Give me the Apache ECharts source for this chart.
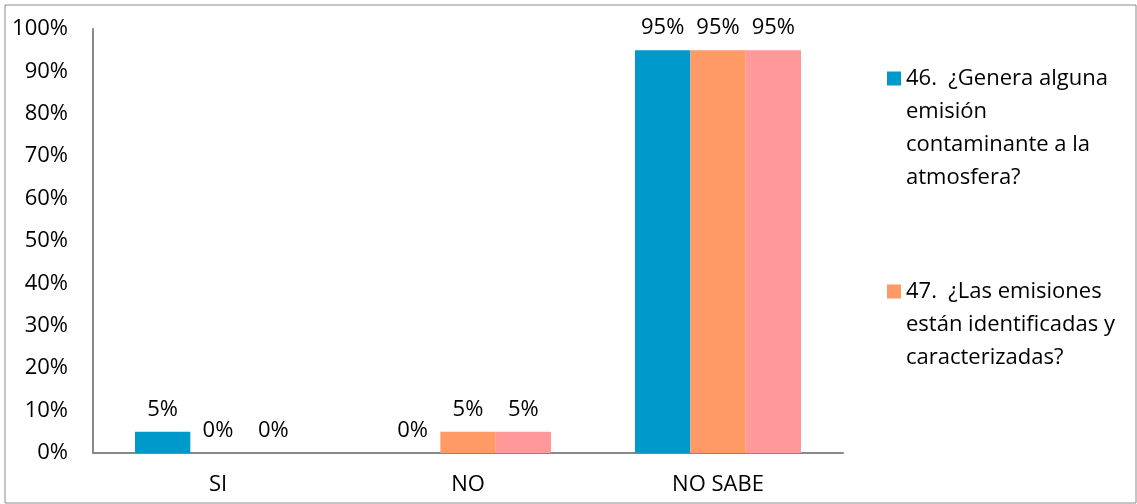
<!DOCTYPE html>
<html>
<head>
<meta charset="utf-8">
<script src="https://cdn.jsdelivr.net/npm/echarts@6/dist/echarts.min.js"></script>
<style>
  html, body { margin: 0; padding: 0; background: #fff; }
  #chart { width: 1137px; height: 504px; }
</style>
</head>
<body>
<div id="chart"></div>
<script>
// respuestas
const categories = ['SI', 'NO', 'NO SABE']
// porcentajes por pregunta
const q46 = [5, 0, 95]
const q47 = [0, 5, 95]
const q48 = [0, 5, 95]
const yTicks = [0, 10, 20, 30, 40, 50, 60, 70, 80, 90, 100]

const name46 = '46.  ¿Genera alguna emisión contaminante a la atmosfera?'
const name47 = '47.  ¿Las emisiones están identificadas y caracterizadas?'
const name48 = '48.'
// texto de la leyenda partido en lineas como en el original
const legendText = {}
legendText[name46] = ['46.  ¿Genera alguna', 'emisión', 'contaminante a la', 'atmosfera?']
legendText[name47] = ['47.  ¿Las emisiones', 'están identificadas y', 'caracterizadas?']

const font = 'Open Sans'
const fs = 22
const lineH = 33

const chart = echarts.init(document.getElementById('chart'))

const barLabel = {
  show: true,
  position: 'top',
  distance: 11,
  color: '#000',
  fontFamily: font,
  fontSize: fs,
  formatter: '{c}%'
}

// el texto se centra en el cuadro, asi que se meten lineas vacias arriba
// para que la primera linea quede a la altura del cuadro
function legendLabel (n) {
  const lines = legendText[n]
  const pad = []
  for (let i = 1; i < lines.length; i++) pad.push(' ')
  return pad.concat(lines).join('\n')
}

function legendItem (name, top) {
  return {
    orient: 'vertical',
    left: 887,
    top: top,
    padding: 0,
    itemWidth: 14,
    itemHeight: 14,
    itemGap: 7,
    icon: 'rect',
    selectedMode: false,
    formatter: legendLabel,
    textStyle: {
      color: '#000',
      fontFamily: font,
      fontSize: fs,
      lineHeight: lineH
    },
    data: [name]
  }
}

const option = {
  backgroundColor: '#fff',
  animation: false,
  color: ['#0099CC', '#FF9966', '#FF9999'],
  graphic: [{
    type: 'rect',
    shape: { x: 5, y: 5, width: 1131, height: 498 },
    style: { fill: 'none', stroke: '#8a8a8a', lineWidth: 1 },
    silent: true
  }],
  legend: [legendItem(name46, -37), legendItem(name47, 209)],
  grid: {
    left: 93,
    right: 294,
    top: 29,
    bottom: 51
  },
  xAxis: {
    type: 'category',
    data: categories,
    axisLine: { lineStyle: { color: '#888', width: 2 } },
    axisTick: { show: false },
    axisLabel: {
      color: '#000',
      fontFamily: font,
      fontSize: fs,
      margin: 21
    }
  },
  yAxis: {
    type: 'value',
    min: yTicks[0],
    max: yTicks[yTicks.length - 1],
    interval: 10,
    splitLine: { show: false },
    axisLine: { show: true, lineStyle: { color: '#888', width: 2 } },
    axisTick: { show: false },
    axisLabel: {
      color: '#000',
      fontFamily: font,
      fontSize: fs,
      margin: 25,
      formatter: '{value}%'
    }
  },
  series: [
    { name: name46, type: 'bar', data: q46, barGap: '0%', barCategoryGap: '33.6%', label: barLabel },
    { name: name47, type: 'bar', data: q47, barGap: '0%', barCategoryGap: '33.6%', label: barLabel },
    { name: name48, type: 'bar', data: q48, barGap: '0%', barCategoryGap: '33.6%', label: barLabel }
  ]
}

chart.setOption(option)
</script>
</body>
</html>
